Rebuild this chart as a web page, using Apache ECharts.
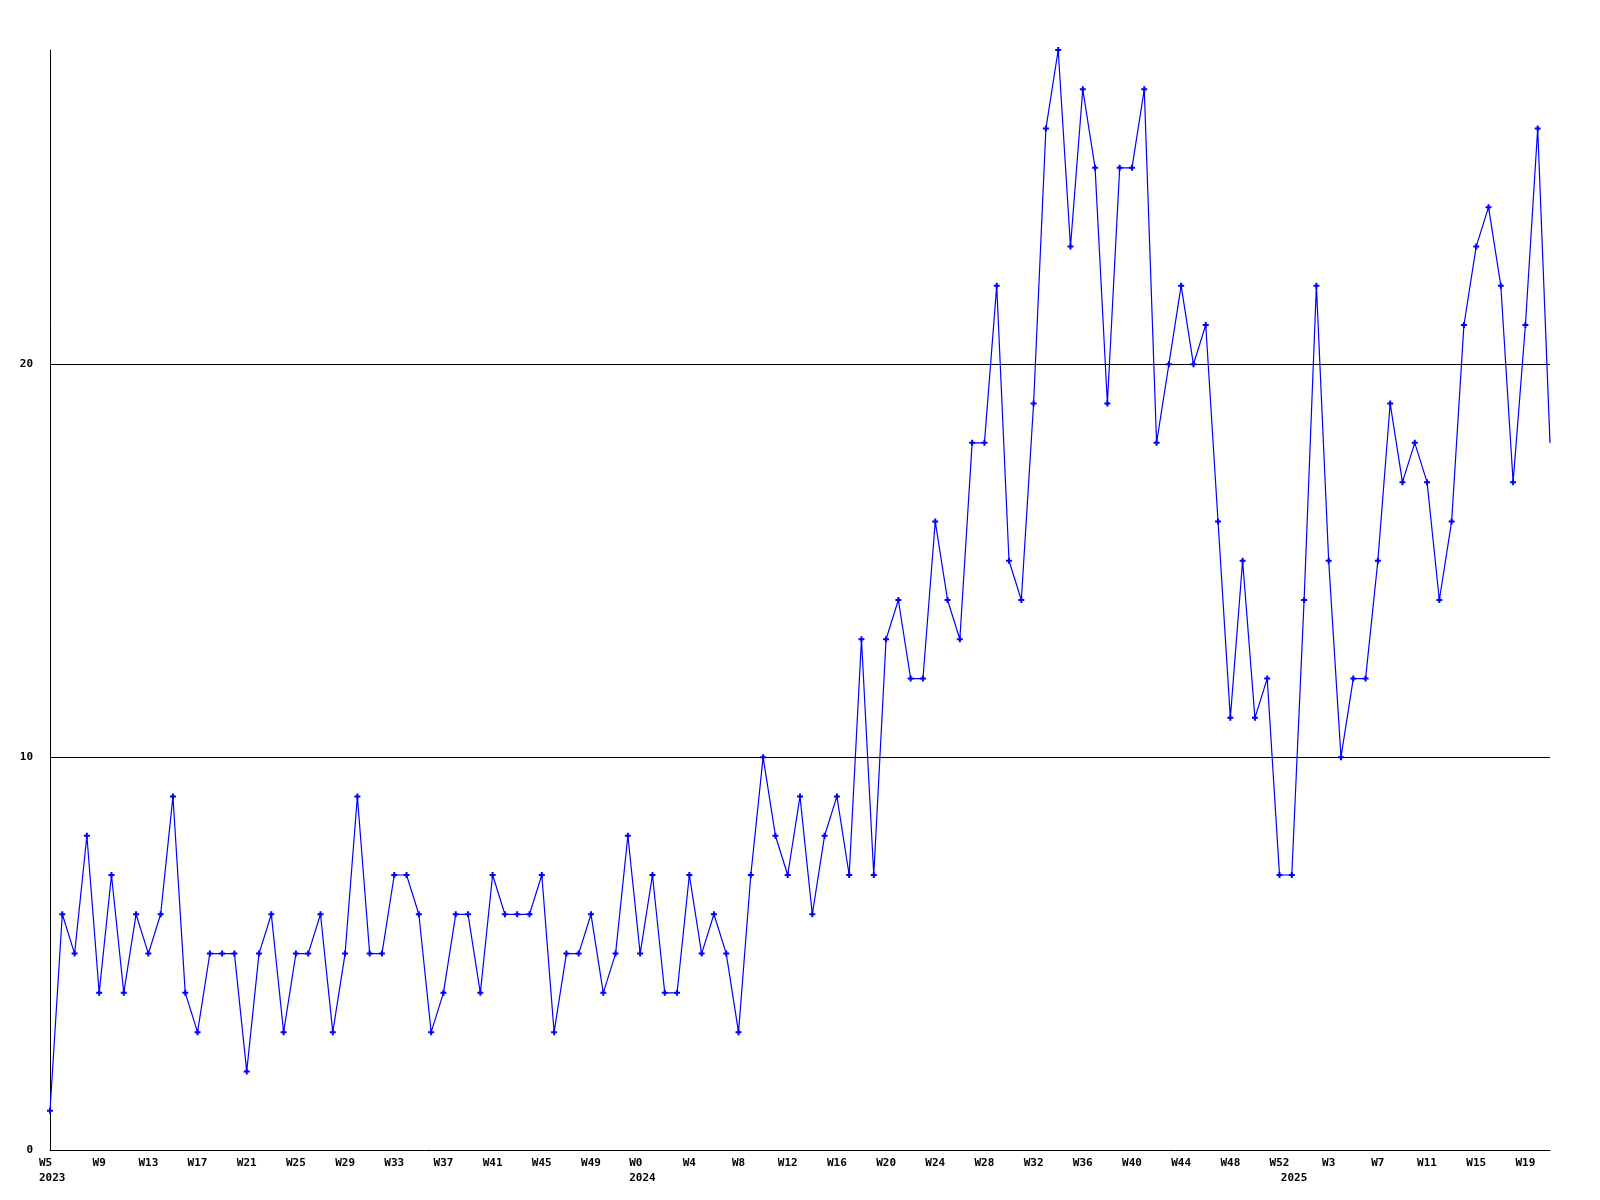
<!DOCTYPE html>
<html>
<head>
<meta charset="utf-8">
<title>Weekly chart</title>
<script src="https://cdn.jsdelivr.net/npm/echarts@6.0.0/dist/echarts.min.js"></script>
<style>
  html, body { margin: 0; padding: 0; background: #ffffff; }
  #chart { width: 1600px; height: 1200px; }
</style>
</head>
<body>
<div id="chart"></div>
<script>
// ---- data ----
// week ranges per year (categories): [year, firstWeek, lastWeek]
const weekRanges = [
  [2023, 5, 52],
  [2024, 0, 52],
  [2025, 0, 21]
];

const values = [
  1, 6, 5, 8, 4, 7, 4, 6, 5, 6,
  9, 4, 3, 5, 5, 5, 2, 5, 6, 3,
  5, 5, 6, 3, 5, 9, 5, 5, 7, 7,
  6, 3, 4, 6, 6, 4, 7, 6, 6, 6,
  7, 3, 5, 5, 6, 4, 5, 8, 5, 7,
  4, 4, 7, 5, 6, 5, 3, 7, 10, 8,
  7, 9, 6, 8, 9, 7, 13, 7, 13, 14,
  12, 12, 16, 14, 13, 18, 18, 22, 15, 14,
  19, 26, 28, 23, 27, 25, 19, 25, 25, 27,
  18, 20, 22, 20, 21, 16, 11, 15, 11, 12,
  7, 7, 14, 22, 15, 10, 12, 12, 15, 19,
  17, 18, 17, 14, 16, 21, 23, 24, 22, 17,
  21, 26, 18
];

const yTicks = [0, 10, 20];
const yMax = 28;
const weekLabelStep = 4;

// ---- build categories ----
const categories = [];
const yearStart = {};
weekRanges.forEach(([y, w0, w1]) => {
  yearStart[categories.length] = String(y);
  for (let w = w0; w <= w1; w++) categories.push('W' + w);
});

const FONT = 'DejaVu Sans Mono';

const chart = echarts.init(document.getElementById('chart'), null, { renderer: 'canvas' });

const lastIdx = values.length - 1;
const seriesData = values.map((v, i) => i === lastIdx ? { value: v, symbol: 'none' } : v);

chart.setOption({
  backgroundColor: '#ffffff',
  animation: false,
  grid: { left: 50, right: 50, top: 50, bottom: 50, containLabel: false },
  xAxis: {
    type: 'category',
    data: categories,
    boundaryGap: false,
    axisLine: { show: true, lineStyle: { color: '#000000', width: 1 } },
    axisTick: { show: false },
    splitLine: { show: false },
    axisLabel: {
      show: true,
      interval: (idx) => idx % weekLabelStep === 0 || yearStart[idx] !== undefined,
      hideOverlap: false,
      margin: 6,
      color: '#000000',
      fontFamily: FONT,
      fontWeight: 'bold',
      fontSize: 11,
      lineHeight: 15,
      formatter: (val, idx) => {
        const showWeek = idx % weekLabelStep === 0;
        const yr = yearStart[idx];
        if (yr === undefined) return val;
        return '{b|' + (showWeek ? val : ' ') + '}\n{b|' + yr + '}';
      },
      rich: {
        b: {
          fontFamily: FONT, fontWeight: 'bold', fontSize: 11, lineHeight: 15,
          color: '#000000', width: 28, align: 'left', padding: [0, 0, 0, 6]
        }
      }
    }
  },
  yAxis: {
    type: 'value',
    min: 0,
    max: yMax,
    interval: 10,
    axisLine: { show: true, lineStyle: { color: '#000000', width: 1 } },
    axisTick: { show: false },
    splitLine: { show: true, showMinLine: false, showMaxLine: false, lineStyle: { color: '#000000', width: 1 } },
    axisLabel: {
      show: true,
      showMaxLabel: false,
      margin: 17,
      color: '#000000',
      fontFamily: FONT,
      fontWeight: 'bold',
      fontSize: 11,
      formatter: (v) => yTicks.indexOf(v) >= 0 ? String(v) : ''
    }
  },
  series: [{
    type: 'line',
    data: seriesData,
    showAllSymbol: true,
    symbol: 'path://M2,0H4V2H6V4H4V6H2V4H0V2H2Z',
    symbolSize: 6,
    symbolKeepAspect: true,
    clip: true,
    itemStyle: { color: '#0000ff', borderWidth: 0 },
    lineStyle: { color: '#0000ff', width: 1.2 },
    emphasis: { disabled: true }
  }]
});
</script>
</body>
</html>
